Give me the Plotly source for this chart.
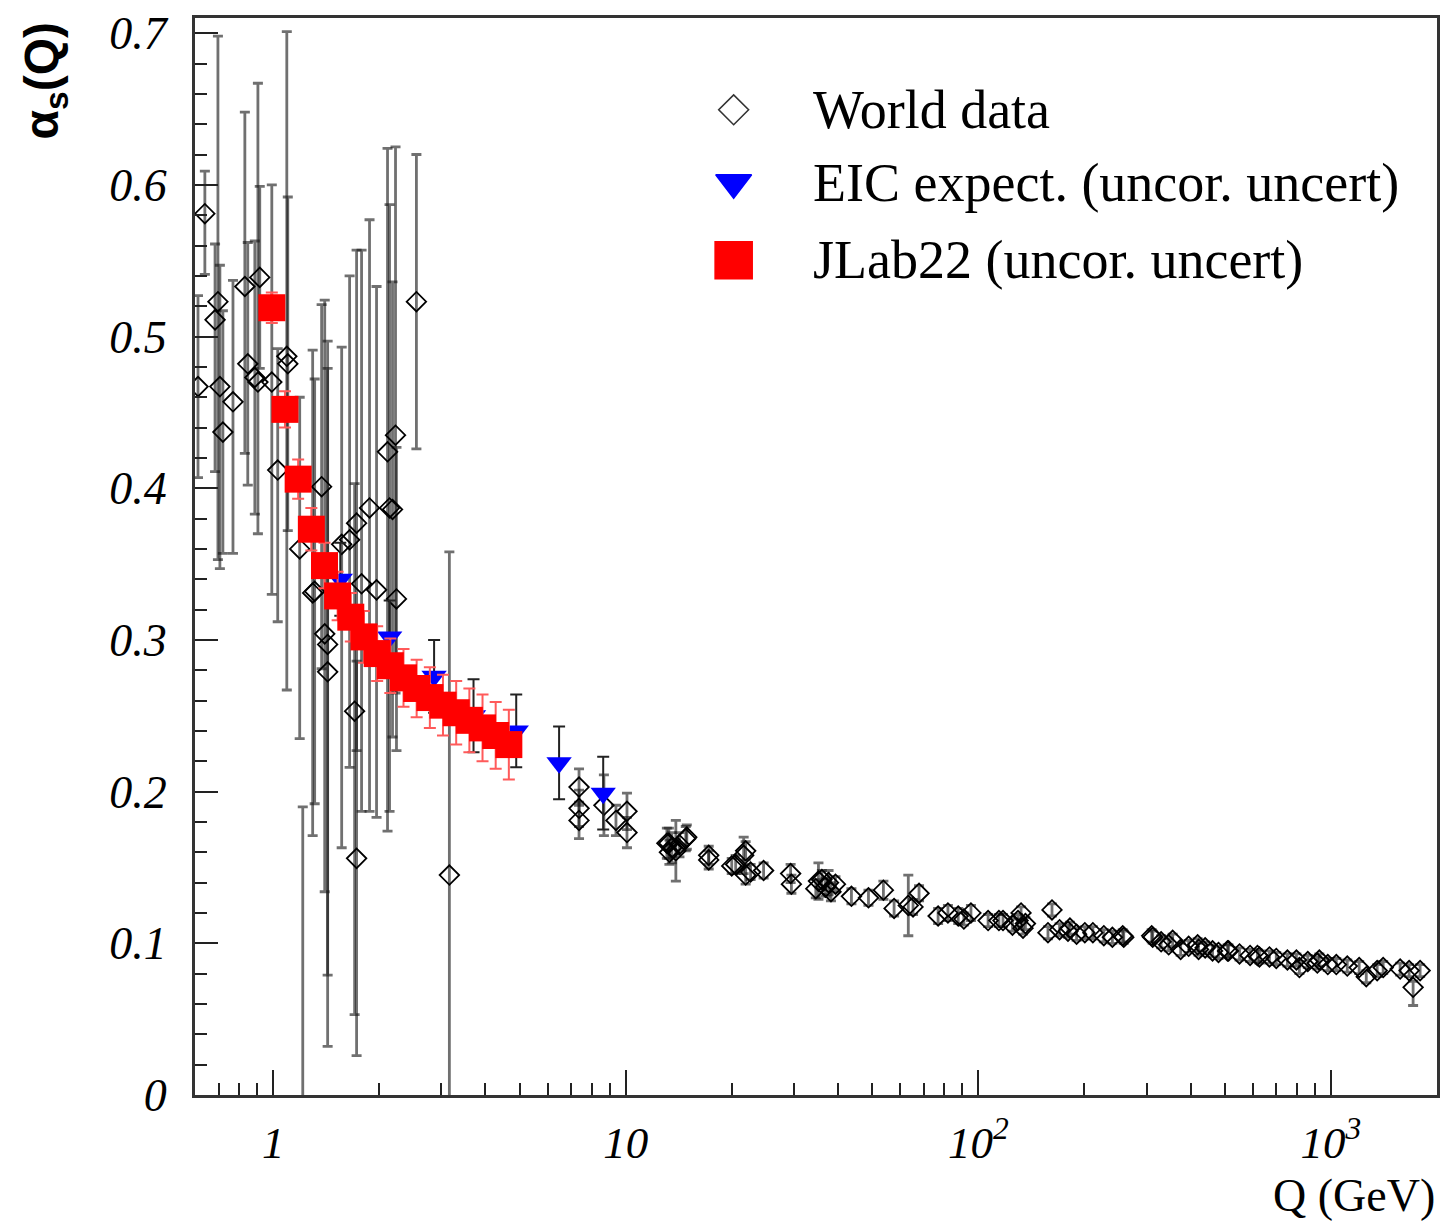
import plotly.graph_objects as go

# ---------------- data ----------------
# World data (Q in GeV, alpha_s, +err, -err)
world_q = [0.612, 0.640, 0.684, 0.697, 0.706, 0.720, 0.769, 0.831, 0.847, 0.887,
           0.905, 0.916, 0.991, 1.03, 1.093, 1.10, 1.189, 1.213, 1.294, 1.311,
           1.372, 1.400, 1.427, 1.427, 1.564, 1.647, 1.702, 1.724, 1.724, 1.781,
           1.876, 1.964, 2.110, 2.138, 2.180, 2.223, 2.237, 2.548, 3.160,
           7.37, 7.37, 7.37, 8.67, 9.38, 10.08, 10.08,
           13.08, 13.25, 13.51, 13.87, 14.80, 14.90, 17.19, 17.19, 19.98, 21.6, 21.88, 21.88,
           22.6, 24.6, 29.35, 29.5, 35.2, 36.86, 37.6, 39.34, 43.66, 48.8, 53.8, 57.69,
           63.3, 65.29, 67.9, 76.9, 82.0, 87.7, 95.3, 106.6, 114.4, 117.5,
           129.6, 132.2, 133.9, 157.6, 161.8, 179.6, 181.9, 200.5, 211.3, 227.0,
           256.8, 258.5, 310.3, 312.3, 346.7, 355.8, 374.9, 418.8, 421.5, 461.7,
           509.2, 512.5, 550.6, 619.1, 627.2, 669.5, 752.8, 798.4, 814.2, 915.2,
           927.4, 1036, 1113, 1203, 1260, 1353, 1407, 1572, 1667, 1711, 1791,
           13.3, 14.2, 20.5, 34.6, 36.0, 38.2, 91.0, 125.0, 136.0, 170.0,
           190.0, 240.0, 330.0, 395.0, 440.0, 480.0, 590.0, 700.0, 860.0, 980.0]
world_a = [0.467, 0.581, 0.511, 0.523, 0.467, 0.437, 0.457, 0.533, 0.482, 0.473,
           0.470, 0.539, 0.470, 0.412, 0.487, 0.482, 0.360, -0.02, 0.331, 0.332,
           0.401, 0.304, 0.297, 0.279, 0.363, 0.366, 0.253, 0.377, 0.156, 0.337,
           0.387, 0.333, 0.424, 0.387, 0.386, 0.435, 0.327, 0.523, 0.145,
           0.203, 0.189, 0.181, 0.191, 0.181, 0.187, 0.173,
           0.166, 0.166, 0.163, 0.161, 0.169, 0.170, 0.155, 0.158, 0.151, 0.158, 0.161, 0.145,
           0.147, 0.148, 0.146, 0.139, 0.141, 0.137, 0.140, 0.139, 0.131, 0.130, 0.135, 0.123,
           0.125, 0.124, 0.133, 0.118, 0.120, 0.118, 0.120, 0.115, 0.115, 0.115,
           0.115, 0.120, 0.110, 0.107, 0.122, 0.108, 0.110, 0.107, 0.107, 0.105,
           0.105, 0.104, 0.105, 0.104, 0.099, 0.102, 0.096, 0.099, 0.096, 0.095,
           0.095, 0.095, 0.093, 0.092, 0.091, 0.091, 0.089, 0.089, 0.084, 0.087,
           0.089, 0.086, 0.085, 0.084, 0.078, 0.082, 0.084, 0.083, 0.082, 0.071, 0.082,
           0.160, 0.165, 0.152, 0.136, 0.142, 0.134, 0.116, 0.112, 0.113, 0.109,
           0.106, 0.104, 0.101, 0.098, 0.097, 0.094, 0.092, 0.090, 0.088, 0.086]
world_ep = [0.06, 0.028, 0.05, 0.175, 0.08, 0.08, 0.08, 0.115, 0.08, 0.09,
            0.197, 0.06, 0.13, 0.08, 0.214, 0.11, 0.10, 0.21, 0.16, 0.14,
            0.12, 0.22, 0.20, 0.20, 0.13, 0.174, 0.15, 0.18, 0.13, 0.22,
            0.19, 0.20, 0.20, 0.20, 0.15, 0.19, 0.10, 0.097, 0.213,
            0.012, 0.012, 0.012, 0.02, 0.01, 0.012, 0.01,
            0.01, 0.01, 0.01, 0.02, 0.008, 0.008, 0.006, 0.006, 0.005, 0.012, 0.006, 0.006,
            0.005, 0.005, 0.006, 0.006, 0.012, 0.006, 0.008, 0.005, 0.005, 0.005, 0.006, 0.005,
            0.02, 0.005, 0.005, 0.005, 0.005, 0.005, 0.005, 0.004, 0.004, 0.004,
            0.004, 0.004, 0.004, 0.004, 0.004, 0.004, 0.004, 0.004, 0.004, 0.004,
            0.004, 0.004, 0.004, 0.004, 0.004, 0.004, 0.004, 0.004, 0.004, 0.004,
            0.004, 0.004, 0.004, 0.004, 0.004, 0.004, 0.004, 0.004, 0.004, 0.004,
            0.004, 0.004, 0.004, 0.004, 0.004, 0.004, 0.004, 0.004, 0.004, 0.004, 0.004,
            0.008, 0.008, 0.006, 0.006, 0.006, 0.006, 0.004, 0.004, 0.004, 0.004,
            0.004, 0.004, 0.004, 0.004, 0.004, 0.004, 0.004, 0.004, 0.004, 0.004]
world_em = [0.06, 0.04, 0.10, 0.17, 0.12, 0.08, 0.10, 0.11, 0.08, 0.09,
            0.10, 0.06, 0.14, 0.10, 0.22, 0.11, 0.125, 0.05, 0.16, 0.14,
            0.12, 0.17, 0.265, 0.20, 0.20, 0.15, 0.20, 0.15, 0.13, 0.15,
            0.20, 0.15, 0.25, 0.20, 0.15, 0.17, 0.10, 0.097, 0.213,
            0.012, 0.012, 0.012, 0.02, 0.01, 0.012, 0.01,
            0.01, 0.01, 0.01, 0.02, 0.008, 0.008, 0.006, 0.006, 0.005, 0.012, 0.006, 0.006,
            0.005, 0.005, 0.006, 0.006, 0.012, 0.006, 0.008, 0.005, 0.005, 0.005, 0.006, 0.005,
            0.02, 0.005, 0.005, 0.005, 0.005, 0.005, 0.005, 0.004, 0.004, 0.004,
            0.004, 0.004, 0.004, 0.004, 0.004, 0.004, 0.004, 0.004, 0.004, 0.004,
            0.004, 0.004, 0.004, 0.004, 0.004, 0.004, 0.004, 0.004, 0.004, 0.004,
            0.004, 0.004, 0.004, 0.004, 0.004, 0.004, 0.004, 0.004, 0.004, 0.004,
            0.004, 0.004, 0.004, 0.004, 0.004, 0.004, 0.004, 0.004, 0.004, 0.012, 0.004,
            0.008, 0.008, 0.006, 0.006, 0.006, 0.006, 0.004, 0.004, 0.004, 0.004,
            0.004, 0.004, 0.004, 0.004, 0.004, 0.004, 0.004, 0.004, 0.004, 0.004]

# EIC expectation (uncorrelated uncertainties)
eic_q = [1.55, 2.14, 2.86, 3.70, 4.89, 6.47, 8.63]
eic_a = [0.340, 0.302, 0.276, 0.250, 0.240, 0.219, 0.199]
eic_err = [0.024, 0.024, 0.024, 0.024, 0.024, 0.024, 0.024]

# JLab22 (uncorrelated uncertainties)
jlab_q = [0.991, 1.080, 1.177, 1.283, 1.398, 1.523, 1.660, 1.809, 1.972, 2.149,
          2.342, 2.552, 2.782, 3.031, 3.304, 3.601, 3.924, 4.276, 4.660]
jlab_a = [0.519, 0.452, 0.406, 0.373, 0.349, 0.329, 0.315, 0.302, 0.291, 0.283,
          0.275, 0.268, 0.262, 0.257, 0.252, 0.247, 0.242, 0.237, 0.231]
jlab_err = [0.010, 0.012, 0.013, 0.014, 0.015, 0.016, 0.016, 0.017, 0.018, 0.018,
            0.019, 0.019, 0.020, 0.020, 0.021, 0.021, 0.022, 0.022, 0.023]

legend_labels = ["World data", "EIC expect. (uncor. uncert)", "JLab22 (uncor. uncert)"]
x_tickvals = [1, 10, 100, 1000]
x_ticktext = ["1", "10", "10<sup>2</sup>", "10<sup>3</sup>"]

# ---------------- figure ----------------
SERIF = "Liberation Serif, Times New Roman, serif"
fig = go.Figure()

fig.add_trace(go.Scatter(
    x=world_q, y=world_a, mode="markers", name=legend_labels[0], showlegend=False,
    marker=dict(symbol="diamond-open", size=15, color="black", line=dict(width=1.8, color="black")),
    error_y=dict(type="data", symmetric=False, array=world_ep, arrayminus=world_em,
                 color="rgba(25,25,25,0.62)", thickness=2.8, width=5),
))

fig.add_trace(go.Scatter(
    x=eic_q, y=eic_a, mode="markers", name=legend_labels[1], showlegend=False,
    marker=dict(symbol="triangle-down", size=22, color="#0000ff", line=dict(width=0)),
    error_y=dict(type="data", array=eic_err, color="#222222", thickness=2, width=6),
))

fig.add_trace(go.Scatter(
    x=jlab_q, y=jlab_a, mode="markers", name=legend_labels[2], showlegend=False,
    marker=dict(symbol="square", size=27, color="#ff0000", line=dict(width=0)),
    error_y=dict(type="data", array=jlab_err, color="#ff5a5a", thickness=2, width=6),
))

# manual legend on an invisible overlay axis (0..1 coordinates)
leg_x = 0.4337
leg_y = [0.9148, 0.8472, 0.7750]
leg_sym = ["diamond-open", "triangle-down", "square"]
leg_col = ["#333333", "#0000ff", "#ff0000"]
leg_size = [23, 31, 37]
for lab, yy, s, c, sz in zip(legend_labels, leg_y, leg_sym, leg_col, leg_size):
    fig.add_trace(go.Scatter(
        x=[leg_x], y=[yy], xaxis="x2", yaxis="y2", mode="markers", showlegend=False,
        hoverinfo="skip",
        marker=dict(symbol=s, size=sz, color=c, line=dict(width=1.6, color=c)),
    ))
    fig.add_annotation(x=0.4956, y=yy, xref="paper", yref="paper", text=lab,
                       showarrow=False, xanchor="left", yanchor="middle",
                       font=dict(family=SERIF, size=54, color="black"))

axis_common = dict(
    ticks="inside", tickcolor="#222222", tickwidth=2, showline=True, linewidth=3,
    linecolor="#333333", mirror=True, showgrid=False, zeroline=False,
)

fig.update_layout(
    width=1448, height=1223,
    margin=dict(l=195, r=8, t=15, b=128),
    paper_bgcolor="white", plot_bgcolor="white",
    showlegend=False,
    xaxis=dict(type="log", range=[-0.2218, 3.301], tickmode="array",
               tickvals=x_tickvals, ticktext=x_ticktext, ticklen=25,
               ticklabelstandoff=6,
               tickfont=dict(family=SERIF, size=45, color="black", style="italic"),
               minor=dict(ticks="inside", ticklen=12, tickwidth=1.5, tickcolor="#222222",
                          dtick="D1", showgrid=False),
               **axis_common),
    yaxis=dict(range=[0, 0.71], tick0=0, dtick=0.1, ticklen=23,
               ticklabelstandoff=16,
               tickfont=dict(family=SERIF, size=46, color="black", style="italic"),
               minor=dict(ticks="inside", ticklen=12, tickwidth=1.5, tickcolor="#222222",
                          dtick=0.02, showgrid=False),
               **axis_common),
    xaxis2=dict(overlaying="x", range=[0, 1], visible=False),
    yaxis2=dict(overlaying="y", range=[0, 1], visible=False),
)

fig.add_annotation(x=-0.1205, y=0.999, xref="paper", yref="paper",
                   text="α<sub>s</sub>(Q)", textangle=-90, showarrow=False,
                   xanchor="center", yanchor="top",
                   font=dict(family="Liberation Sans, Arial, sans-serif", size=48,
                             color="black", weight="bold"))
fig.add_annotation(x=1.0, y=-0.0935, xref="paper", yref="paper",
                   text="Q (GeV)", showarrow=False, xanchor="right", yanchor="middle",
                   font=dict(family=SERIF, size=46, color="black"))

fig.write_html("out.html")
